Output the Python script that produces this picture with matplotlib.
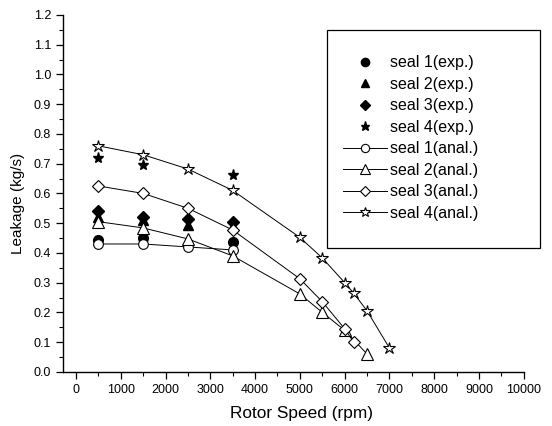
import matplotlib.pyplot as plt
from matplotlib.patches import Rectangle
from matplotlib.ticker import MultipleLocator

plt.rcParams['font.family'] = ['Liberation Sans', 'DejaVu Sans']

# Experimental data (rpm, kg/s)
s1_exp_x = [500, 1500, 3500]
s1_exp_y = [0.443, 0.449, 0.438]
s2_exp_x = [500, 1500, 2500, 3500]
s2_exp_y = [0.52, 0.51, 0.494, 0.49]
s3_exp_x = [500, 1500, 2500, 3500]
s3_exp_y = [0.542, 0.522, 0.514, 0.505]
s4_exp_x = [500, 1500, 3500]
s4_exp_y = [0.72, 0.697, 0.662]

# Analytical data
s1_an_x = [500, 1500, 2500, 3500]
s1_an_y = [0.43, 0.43, 0.42, 0.41]
s2_an_x = [500, 1500, 2500, 3500, 5000, 5500, 6000, 6500]
s2_an_y = [0.505, 0.484, 0.447, 0.39, 0.262, 0.20, 0.14, 0.06]
s3_an_x = [500, 1500, 2500, 3500, 5000, 5500, 6000, 6200]
s3_an_y = [0.625, 0.60, 0.55, 0.477, 0.313, 0.236, 0.145, 0.10]
s4_an_x = [500, 1500, 2500, 3500, 5000, 5500, 6000, 6200, 6500, 7000]
s4_an_y = [0.76, 0.73, 0.682, 0.61, 0.452, 0.383, 0.30, 0.265, 0.205, 0.08]

fig = plt.figure(figsize=(5.52, 4.26), dpi=100)
ax = fig.add_axes([0.114, 0.127, 0.835, 0.838])

lw = 0.7
ms = 7
ax.plot(s1_exp_x, s1_exp_y, 'o', color='black', ms=ms, ls='none', label='seal 1(exp.)')
ax.plot(s2_exp_x, s2_exp_y, '^', color='black', ms=ms, ls='none', label='seal 2(exp.)')
ax.plot(s3_exp_x, s3_exp_y, 'D', color='black', ms=ms - 1, ls='none', label='seal 3(exp.)')
ax.plot(s4_exp_x, s4_exp_y, '*', color='black', ms=ms + 1, ls='none', label='seal 4(exp.)')

ax.plot(s1_an_x, s1_an_y, '-o', color='black', lw=lw, ms=ms, mfc='white', mew=0.8, label='seal 1(anal.)')
ax.plot(s2_an_x, s2_an_y, '-^', color='black', lw=lw, ms=ms + 1, mfc='white', mew=0.8, label='seal 2(anal.)')
ax.plot(s3_an_x, s3_an_y, '-D', color='black', lw=lw, ms=ms - 1, mfc='white', mew=0.8, label='seal 3(anal.)')
ax.plot(s4_an_x, s4_an_y, '-*', color='black', lw=lw, ms=ms + 2, mfc='white', mew=0.8, label='seal 4(anal.)')

ax.set_xlim(-290, 10000)
ax.set_ylim(0, 1.2)
ax.xaxis.set_major_locator(MultipleLocator(1000))
ax.xaxis.set_minor_locator(MultipleLocator(500))
ax.yaxis.set_major_locator(MultipleLocator(0.1))
ax.yaxis.set_minor_locator(MultipleLocator(0.05))
ax.yaxis.set_major_formatter(plt.FormatStrFormatter('%.1f'))
ax.tick_params(which='major', direction='out', length=5, width=0.9, labelsize=9)
ax.tick_params(which='minor', direction='out', length=3, width=0.8)

ax.spines['top'].set_visible(False)
ax.spines['right'].set_visible(False)
ax.spines['left'].set_linewidth(1)
ax.spines['bottom'].set_linewidth(1)

ax.set_xlabel('Rotor Speed (rpm)', fontsize=12.4)
ax.set_ylabel('Leakage (kg/s)', fontsize=11)
ax.xaxis.set_label_coords(0.517, -0.095)
ax.yaxis.set_label_coords(-0.082, 0.471)

# Legend box
box = Rectangle((0.573, 0.347), 0.462, 0.611, transform=ax.transAxes,
                fill=False, edgecolor='black', lw=0.9, clip_on=False)
ax.add_patch(box)
ax.legend(loc='center left', bbox_to_anchor=(0.607, 0.655), frameon=False,
          fontsize=11.5, labelspacing=0.41, handlelength=2.75, handletextpad=0.2,
          borderaxespad=0, borderpad=0, markerscale=0.85)

fig.savefig('out.png', dpi=100)
